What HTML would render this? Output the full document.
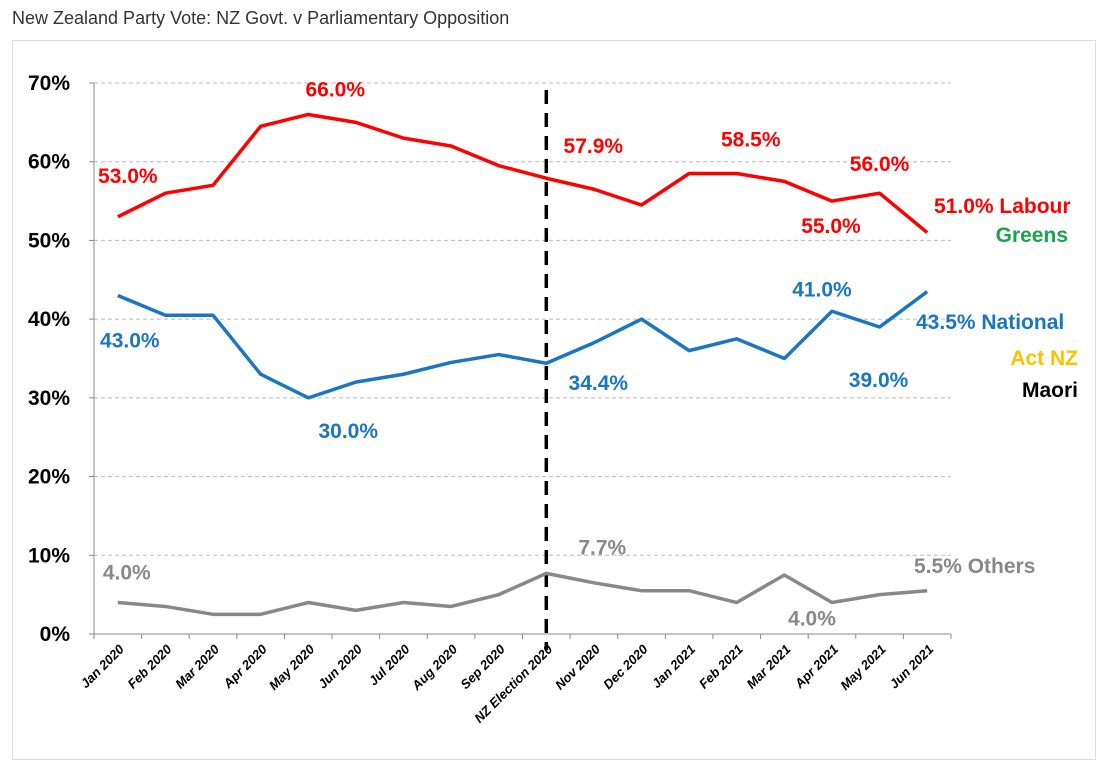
<!DOCTYPE html>
<html><head><meta charset="utf-8"><style>
body{margin:0;background:#fff;width:1104px;height:774px;overflow:hidden;font-family:"Liberation Sans",sans-serif}
#title{position:absolute;left:12px;top:8px;font-size:18px;color:#333}
#frame{position:absolute;left:12px;top:40px;width:1082px;height:718px;border:1px solid #ddd}
svg{position:absolute;left:0;top:0}
</style></head><body>
<div id="title">New Zealand Party Vote: NZ Govt. v Parliamentary Opposition</div>
<div id="frame"></div>
<svg id="c" width="1104" height="774"></svg>
<script>
const categories=["Jan 2020","Feb 2020","Mar 2020","Apr 2020","May 2020","Jun 2020","Jul 2020","Aug 2020","Sep 2020","NZ Election 2020","Nov 2020","Dec 2020","Jan 2021","Feb 2021","Mar 2021","Apr 2021","May 2021","Jun 2021"];
const labour=[53,56,57,64.5,66,65,63,62,59.5,57.9,56.5,54.5,58.5,58.5,57.5,55,56,51];
const national=[43,40.5,40.5,33,30,32,33,34.5,35.5,34.4,37,40,36,37.5,35,41,39,43.5];
const others=[4,3.5,2.5,2.5,4,3,4,3.5,5,7.7,6.5,5.5,5.5,4,7.5,4,5,5.5];
const yTicks=[0,10,20,30,40,50,60,70];
const electionIndex=9;
const NS="http://www.w3.org/2000/svg";
const svg=document.getElementById('c');
const x0=94,x1=951,y0=634,y1=83;
const step=(x1-x0)/categories.length;
const X=i=>x0+(i+0.5)*step;
const Y=v=>y0-(v/70)*(y0-y1);
function el(t,a,p){const e=document.createElementNS(NS,t);for(const k in a)e.setAttribute(k,a[k]);(p||svg).appendChild(e);return e;}
yTicks.forEach(v=>{
 if(v>0){const g=el('line',{x1:x0,x2:x1,y1:Y(v),y2:Y(v),stroke:'#bbb','stroke-dasharray':'4,3'});
 
 }
 const t=el('text',{x:70,y:Y(v)+7,'text-anchor':'end','font-size':'21','font-weight':'bold',fill:'#000'});
 t.textContent=v+'%';
 
 
 el('line',{x1:x0-5,x2:x0,y1:Y(v),y2:Y(v),stroke:'#888'});
});
el('line',{x1:x0,x2:x0,y1:y1,y2:y0,stroke:'#888'});
el('line',{x1:x0,x2:x1,y1:y0,y2:y0,stroke:'#888'});
categories.forEach((c,i)=>{
 el('line',{x1:x0+i*step,x2:x0+i*step,y1:y0,y2:y0+5,stroke:'#888'});
 const t=el('text',{x:X(i)+7,y:y0+16,'text-anchor':'end','font-size':'13','font-weight':'bold','font-style':'italic',fill:'#000',transform:`rotate(-45 ${X(i)+7} ${y0+16})`});
 t.textContent=c;
 
 
});
el('line',{x1:x0+categories.length*step,x2:x0+categories.length*step,y1:y0,y2:y0+5,stroke:'#888'});
const d=el('line',{x1:X(electionIndex),x2:X(electionIndex),y1:90,y2:650,stroke:'#000','stroke-width':3.5,'stroke-dasharray':'14,9'});


function series(vals,col,name){
 const p=el('polyline',{points:vals.map((v,i)=>X(i)+','+Y(v)).join(' '),fill:'none',stroke:col,'stroke-width':3.5,'stroke-linejoin':'round'});
 
 
}
series(labour,'#ff0000','labour-line');
series(national,'#1a75c2','national-line');
series(others,'#888888','others-line');
function lab(s,x,y,col,anchor){const t=el('text',{x:x,y:y,'font-size':'21','font-weight':'bold',fill:col,'text-anchor':anchor||'middle'});t.textContent=s;
 
 }
const R='#ff0000',B='#1a75c2',G='#888';
lab(labour[0].toFixed(1)+'%',X(0)+10,Y(labour[0])-34,R);
lab(labour[4].toFixed(1)+'%',X(4)+27,Y(labour[4])-18,R);
lab(labour[9].toFixed(1)+'%',X(9)+47,Y(labour[9])-25,R);
lab(labour[13].toFixed(1)+'%',X(13)+14,Y(labour[13])-27,R);
lab(labour[16].toFixed(1)+'%',X(16),Y(labour[16])-22,R);
lab(labour[15].toFixed(1)+'%',X(15)-1,Y(labour[15])+32,R);
lab(labour[17].toFixed(1)+'% Labour',934,213,R,'start');
lab('Greens',1068,242,'#1aa34a','end');
lab(national[0].toFixed(1)+'%',X(0)+12,Y(national[0])+52,B);
lab(national[4].toFixed(1)+'%',X(4)+40,Y(national[4])+40,B);
lab(national[9].toFixed(1)+'%',X(9)+52,Y(national[9])+27,B);
lab(national[15].toFixed(1)+'%',X(15)-10,Y(national[15])-15,B);
lab(national[16].toFixed(1)+'%',X(16)-1,Y(national[16])+60,B);
lab(national[17].toFixed(1)+'% National',916,329,B,'start');
lab('Act NZ',1078,365,'#ffc000','end');
lab('Maori',1078,397,'#000','end');
lab(others[0].toFixed(1)+'%',X(0)+9,Y(others[0])-23,G);
lab(others[9].toFixed(1)+'%',X(9)+56,Y(others[9])-19,G);
lab(others[15].toFixed(1)+'%',X(15)-20,Y(others[15])+23,G);
lab(others[17].toFixed(1)+'% Others',914,573,G,'start');
</script>
</body></html>
